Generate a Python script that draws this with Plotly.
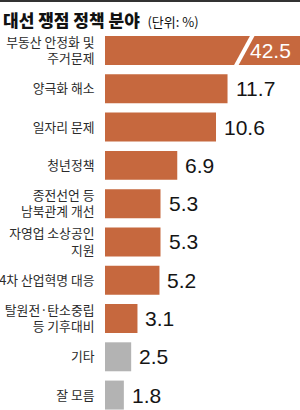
import plotly.graph_objects as go

categories = [
    "부동산 안정화 및<br>주거문제",
    "양극화 해소",
    "일자리 문제",
    "청년정책",
    "종전선언 등<br>남북관계 개선",
    "자영업 소상공인<br>지원",
    "4차 산업혁명 대응",
    "탈원전·탄소중립<br>등 기후대비",
    "기타",
    "잘 모름",
]
values = [42.5, 11.7, 10.6, 6.9, 5.3, 5.3, 5.2, 3.1, 2.5, 1.8]
gray_categories = ["기타", "잘 모름"]

ORANGE = "#C6683E"
GRAY = "#B3B3B3"
colors = [GRAY if c in gray_categories else ORANGE for c in categories]

W, H = 300, 410
L, R, T, B = 105, 0, 31, 0
XMAX = 18.62
plot_h = H - T - B

NUM_FONT = "Liberation Sans Narrow, Arial Narrow, sans-serif"

fig = go.Figure()
fig.add_trace(go.Bar(
    x=values, y=categories, orientation="h",
    marker=dict(color=colors, line=dict(width=0)),
    hoverinfo="skip",
))

annotations = []
for c, v in zip(categories, values):
    if v > XMAX:
        annotations.append(dict(
            x=XMAX, y=c, xref="x", yref="y", text=f"{v}", showarrow=False,
            xanchor="right", yanchor="middle", xshift=-7,
            font=dict(family=NUM_FONT, size=21, color="white"),
        ))
    else:
        annotations.append(dict(
            x=v, y=c, xref="x", yref="y", text=f"{v}", showarrow=False,
            xanchor="left", yanchor="middle", xshift=6,
            font=dict(family=NUM_FONT, size=21, color="#151515"),
        ))

shapes = []
# axis break slash on the clipped first bar
shapes.append(dict(type="line", xref="x", yref="y",
                   x0=14.2, y0=-0.45, x1=12.4, y1=0.45,
                   line=dict(color="white", width=4)))
# top rule
top_y = 1 + (T - 1) / plot_h
shapes.append(dict(type="line", xref="paper", yref="paper",
                   x0=-L / (W - L - R), x1=1, y0=top_y, y1=top_y,
                   line=dict(color="#333333", width=2)))

fig.update_layout(
    width=W, height=H,
    margin=dict(l=L, r=R, t=T, b=B, pad=0, autoexpand=False),
    paper_bgcolor="white", plot_bgcolor="white",
    bargap=0.243,
    showlegend=False,
    title=dict(
        text="<span style='font-weight:900'>대선 쟁점 정책 분야</span>  <span style='font-size:13px;font-weight:normal'>(단위: %)</span>",
        xref="container", yref="container", x=3 / W, y=1 - 21 / H,
        xanchor="left", yanchor="middle",
        font=dict(family="Noto Sans CJK KR, sans-serif", size=17, color="#111111"),
    ),
    xaxis=dict(range=[0, XMAX], visible=False, fixedrange=True),
    yaxis=dict(
        categoryorder="array", categoryarray=categories,
        range=[9.39, -0.51],
        showgrid=False, zeroline=False, showline=False,
        ticks="outside", ticklen=7, tickcolor="rgba(0,0,0,0)",
        tickfont=dict(family="Noto Sans CJK KR, sans-serif", size=12.8, color="#2b2b2b"),
        fixedrange=True,
    ),
    annotations=annotations,
    shapes=shapes,
)

fig.write_html("out.html")
